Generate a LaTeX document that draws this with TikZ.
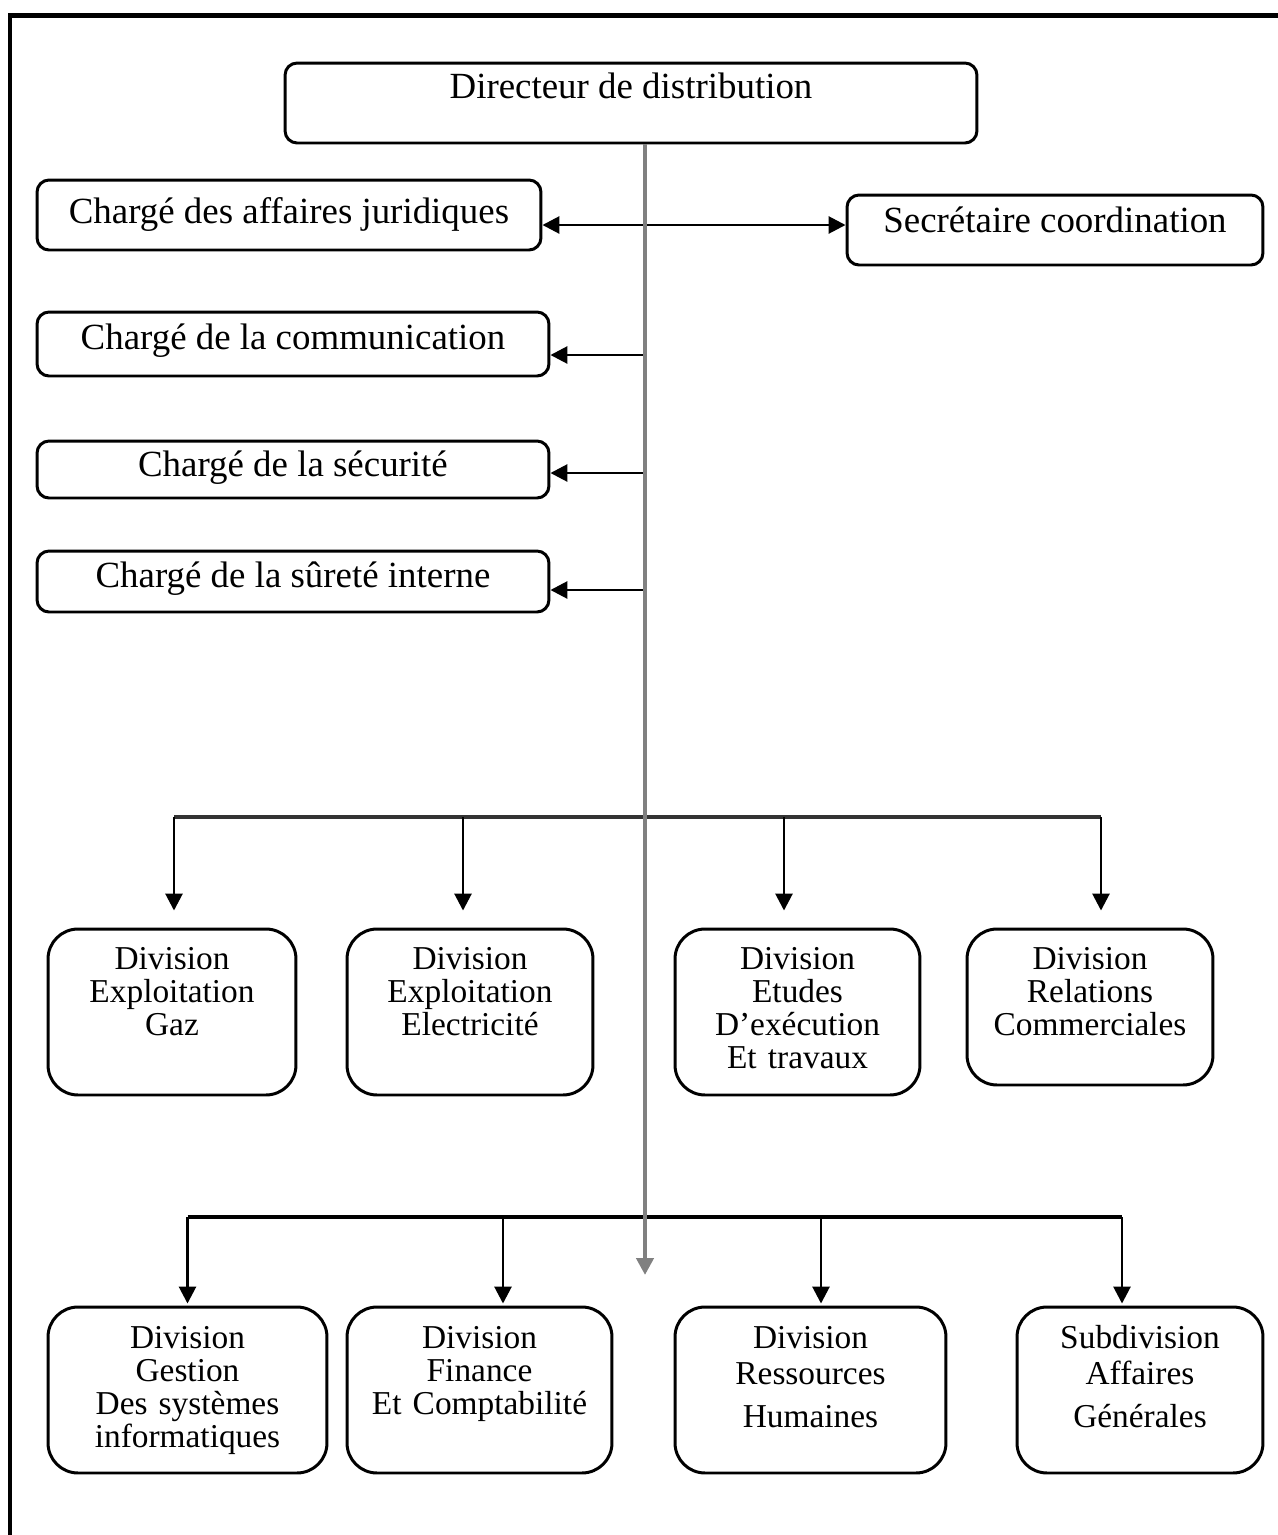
\documentclass[tikz,border=0pt]{standalone}
\usepackage{fontspec}
\setmainfont{Liberation Serif}
\usetikzlibrary{arrows.meta}
\tikzset{
  box/.style={draw, line width=1.7pt, rounded corners=0.24cm, inner sep=0pt, align=center, font=\fontsize{21}{25}\selectfont},
  divbox/.style={box, rounded corners=0.6cm, text width=4.6cm, font=\fontsize{19}{18.8}\selectfont},
  link/.style={line width=1.6pt, -{Triangle[length=0.34cm,width=0.34cm]}},
  bus/.style={line width=1.8pt},
  trunk/.style={link, line width=2.6pt, black!50},
}
\begin{document}
\begin{tikzpicture}[x=0.02cm, y=-0.02cm]
\useasboundingbox (0,0) rectangle (1278,1535);
\draw[line width=0.1cm] (10,1535) -- (10,15) -- (1278,15);
% direction et charges
\node[box, minimum width=13.84cm, text height=0.70cm, text depth=0.90cm] at (631,103) (dir) {Directeur de distribution};
\node[box, minimum width=10.08cm, text height=0.86cm, text depth=0.54cm] at (289,215) (jur) {Chargé des affaires juridiques};
\node[box, minimum width=8.32cm, text height=0.74cm, text depth=0.66cm] at (1055,230) (sec) {Secrétaire coordination};
\node[box, minimum width=10.24cm, text height=0.74cm, text depth=0.54cm] at (293,344) (com) {Chargé de la communication};
\node[box, minimum width=10.24cm, text height=0.70cm, text depth=0.44cm] at (293,469.5) (secu) {Chargé de la sécurité};
\node[box, minimum width=10.24cm, text height=0.72cm, text depth=0.50cm] at (293,581.5) (sur) {Chargé de la sûreté interne};
% divisions
\node[divbox, minimum width=4.96cm, text height=0.80cm, text depth=2.52cm] at (172,1012) (g1) {Division\\Exploitation\\Gaz};
\node[divbox, minimum width=4.92cm, text height=0.80cm, text depth=2.52cm] at (470,1012) (g2) {Division\\Exploitation\\Electricité};
\node[divbox, minimum width=4.90cm, text height=0.80cm, text depth=2.52cm] at (797.5,1012) (g3) {Division\\Etudes\\D’exécution\\Et travaux};
\node[divbox, minimum width=4.92cm, text height=0.80cm, text depth=2.32cm] at (1090,1007) (g4) {Division\\Relations\\Commerciales};
\node[divbox, minimum width=5.58cm, text height=0.82cm, text depth=2.50cm] at (187.5,1390) (h1) {Division\\Gestion\\Des systèmes\\informatiques};
\node[divbox, minimum width=5.30cm, text height=0.82cm, text depth=2.50cm] at (479.5,1390) (h2) {Division\\Finance\\Et Comptabilité};
\node[divbox, minimum width=5.42cm, text height=0.82cm, text depth=2.50cm] at (810.5,1390) (h3) {Division\\[0.06cm]Ressources\\[0.2cm]Humaines};
\node[divbox, minimum width=4.92cm, text height=0.82cm, text depth=2.50cm] at (1140,1390) (h4) {Subdivision\\[0.06cm]Affaires\\[0.2cm]Générales};
% liaisons
\coordinate (tend) at (645,1275);
\coordinate (bus1) at (645,817);
\coordinate (bus2) at (645,1217);
\foreach \n/\y in {jur/225, com/355, secu/473, sur/590}
  \coordinate (k\n) at (645,\y);
\draw[link] (kjur) -- (kjur -| jur.east);
\draw[link] (kjur) -- (kjur -| sec.west);
\foreach \n in {com, secu, sur}
  \draw[link] (k\n) -- (k\n -| \n.east);
\foreach \n/\dx in {g1/0.04, g2/-0.14, g3/-0.27, g4/0.22}
  \coordinate (d\n) at ([xshift=\dx cm, yshift=0.34cm]\n.north);
\foreach \n/\dx in {h1/0, h2/0.47, h3/0.21, h4/-0.36}
  \coordinate (d\n) at ([xshift=\dx cm, yshift=0.04cm]\n.north);
\draw[bus, black!80] (dg1 |- bus1) -- (dg4 |- bus1);
\draw[bus] (dh1 |- bus2) -- (dh4 |- bus2);
\foreach \n in {g1, g2, g3, g4}
  \draw[link] (d\n |- bus1) -- (d\n);
\foreach \n in {h1, h2, h3, h4}
  \draw[link] (d\n |- bus2) -- (d\n);
\draw[trunk] (dir.south -| tend) -- (tend);
\end{tikzpicture}
\end{document}
